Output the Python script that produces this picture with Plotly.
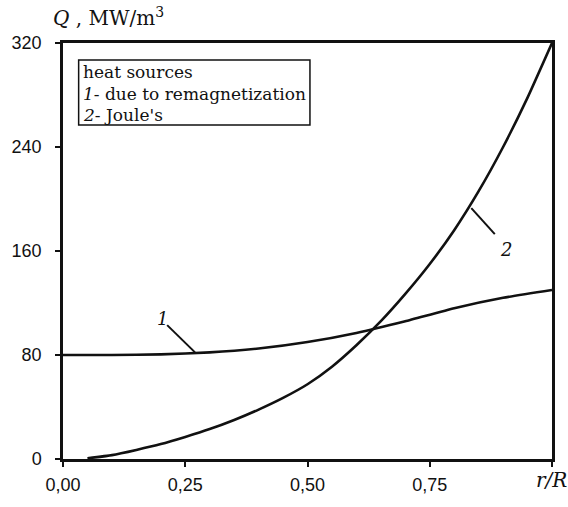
import plotly.graph_objects as go

# Radial coordinate r/R
r1 = [0.0, 0.1, 0.2, 0.3, 0.4, 0.5, 0.6, 0.7, 0.8, 0.9, 1.0]
# Curve 1: heat sources due to remagnetization, MW/m3
q1 = [80, 80, 80.5, 82, 85, 90, 97, 106, 116, 124, 130]

r2 = [0.05, 0.10, 0.15, 0.20, 0.25, 0.30, 0.35, 0.40, 0.45, 0.50,
      0.55, 0.60, 0.65, 0.70, 0.75, 0.80, 0.85, 0.90, 0.95, 1.00]
# Curve 2: Joule heat sources, MW/m3
q2 = [0.5, 3, 7, 11.5, 17, 23, 30, 38, 47, 57.5,
      71, 87.5, 106, 127, 150, 176, 206, 240, 278, 320]

x_ticks = [0.0, 0.25, 0.5, 0.75, 1.0]
x_ticktext = ["0,00", "0,25", "0,50", "0,75", " "]
y_ticks = [0, 80, 160, 240, 320]

SERIF = "DejaVu Serif"
SANS = "Liberation Sans"
INK = "#111111"

fig = go.Figure()
line_style = dict(color=INK, width=2.6, shape="spline", smoothing=0.4)
fig.add_trace(go.Scatter(x=r1, y=q1, mode="lines", line=line_style, showlegend=False))
fig.add_trace(go.Scatter(x=r2, y=q2, mode="lines", line=line_style, showlegend=False))

axis_common = dict(
    showgrid=False, zeroline=False, showline=True, mirror=True,
    linecolor=INK, linewidth=2.5,
    ticks="outside", ticklen=5, tickwidth=2, tickcolor=INK,
    tickfont=dict(family=SANS, size=18, color=INK),
)
fig.update_xaxes(range=[0, 1], tickvals=x_ticks, ticktext=x_ticktext,
                 ticklabelstandoff=3, **axis_common)
fig.update_yaxes(range=[0, 320], tickvals=y_ticks, ticktext=[str(v) for v in y_ticks],
                 ticklabelstandoff=10, **axis_common)

# Legend box drawn as a frame with text lines inside
fig.add_shape(type="rect", xref="x", yref="y", x0=0.032, x1=0.505, y0=257, y1=307,
              line=dict(color=INK, width=1.5), fillcolor="white")
legend_lines = [
    (298, "heat sources"),
    (281, "<i>1</i>- due to remagnetization"),
    (265, "<i>2</i>- Joule's"),
]
for yy, txt in legend_lines:
    fig.add_annotation(x=0.036, y=yy, xref="x", yref="y", text=txt, showarrow=False,
                       xanchor="left", yanchor="middle",
                       font=dict(family=SERIF, size=17, color=INK))

# Curve labels with leader lines
fig.add_shape(type="line", xref="x", yref="y", x0=0.213, y0=103, x1=0.27, y1=82,
              line=dict(color=INK, width=2))
fig.add_annotation(x=0.203, y=108, xref="x", yref="y", text="<i>1</i>", showarrow=False,
                   xanchor="center", yanchor="middle",
                   font=dict(family=SERIF, size=18, color=INK))
fig.add_shape(type="line", xref="x", yref="y", x0=0.835, y0=193, x1=0.883, y1=173,
              line=dict(color=INK, width=2))
fig.add_annotation(x=0.905, y=161, xref="x", yref="y", text="<i>2</i>", showarrow=False,
                   xanchor="center", yanchor="middle",
                   font=dict(family=SERIF, size=18, color=INK))

# Axis titles
fig.add_annotation(x=-0.024, y=1.062, xref="paper", yref="paper",
                   text="<i>Q</i> , MW/m<sup>3</sup>", showarrow=False,
                   xanchor="left", yanchor="middle",
                   font=dict(family=SERIF, size=20, color=INK))
fig.add_annotation(x=1.035, y=-0.05, xref="paper", yref="paper",
                   text="<i>r/R</i>", showarrow=False,
                   xanchor="right", yanchor="middle",
                   font=dict(family=SERIF, size=20, color=INK))

fig.update_layout(
    width=568, height=507,
    margin=dict(l=57, r=16, t=43, b=35),
    plot_bgcolor="white", paper_bgcolor="white",
)

fig.write_html("out.html")
